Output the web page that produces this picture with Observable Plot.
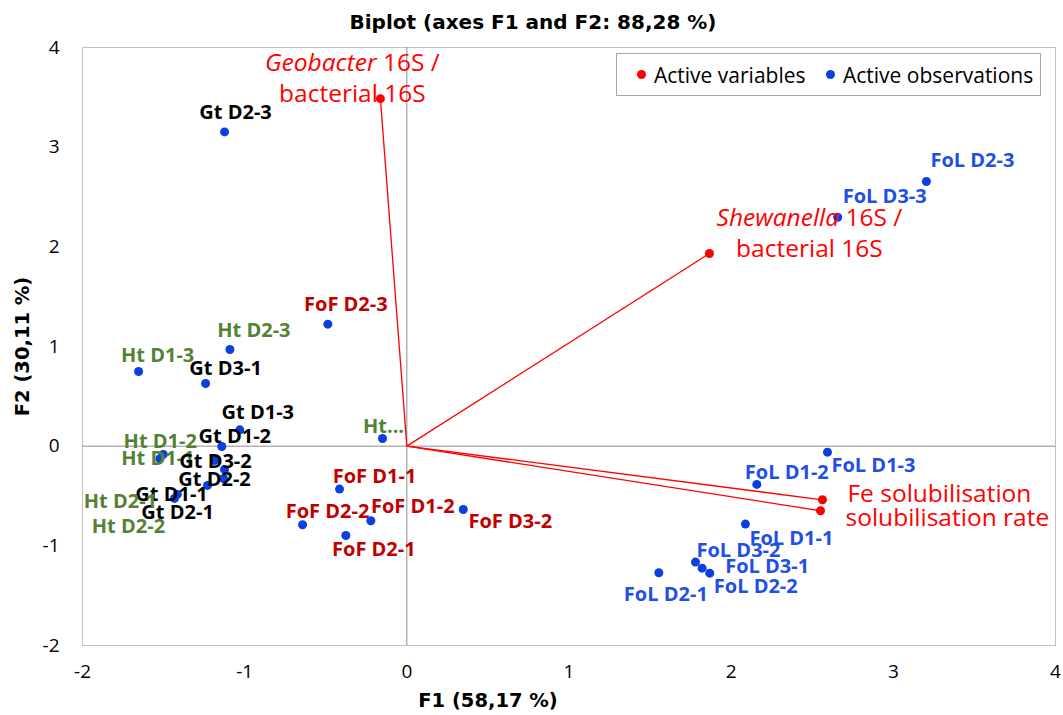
<!DOCTYPE html>
<html>
<head>
<meta charset="utf-8">
<script src="https://cdn.jsdelivr.net/npm/d3@7"></script>
<script src="https://cdn.jsdelivr.net/npm/@observablehq/plot@0.6"></script>
<style>
  html, body { margin: 0; padding: 0; background: #fff; }
  #wrap { position: relative; width: 1063px; height: 715px; font-family: "Open Sans", sans-serif; }
  #legend { position: absolute; left: 616px; top: 53px; width: 423px; height: 41px; border: 1px solid #a6a6a6; background: #fff;
            font-size: 21px; color: #000; }
  .li { position: absolute; top: 0; height: 41px; display: flex; align-items: center; white-space: nowrap; }
  .sw { position: absolute; top: 16px; width: 9px; height: 9px; border-radius: 50%; }
</style>
</head>
<body>
<div id="wrap"></div>
<script>
// ---- Data ----
const obsNames = ["Gt D2-3","Ht D2-3","Ht D1-3","Gt D3-1","Gt D1-3","Gt D1-2","Ht D1-2","Ht D1-1","Gt D3-2","Gt D2-2","Gt D2-1","Gt D1-1","Ht D2-1","Ht D2-2","Ht...",
                  "FoF D2-3","FoF D1-1","FoF D1-2","FoF D2-2","FoF D2-1","FoF D3-2",
                  "FoL D2-3","FoL D3-3","FoL D1-3","FoL D1-2","FoL D1-1","FoL D3-2","FoL D3-1","FoL D2-2","FoL D2-1"];
const obsF1 = [-1.124,-1.091,-1.654,-1.241,-1.030,-1.141,-1.502,-1.523,-1.186,-1.124,-1.130,-1.229,-1.415,-1.433,-0.150,
               -0.487,-0.415,-0.222,-0.643,-0.376,0.348,
               3.204,2.657,2.594,2.158,2.088,1.780,1.821,1.868,1.554];
const obsF2 = [3.153,0.970,0.749,0.629,0.164,-0.003,-0.083,-0.126,-0.143,-0.234,-0.324,-0.394,-0.484,-0.524,0.077,
               1.224,-0.431,-0.748,-0.788,-0.896,-0.635,
               2.655,2.297,-0.060,-0.384,-0.782,-1.163,-1.224,-1.274,-1.270];

const varNames = ["Geobacter 16S /\nbacterial 16S","Shewanella 16S /\nbacterial 16S","Fe solubilisation","solubilisation rate"];
const varF1 = [-0.163, 1.866, 2.563, 2.551];
const varF2 = [3.487, 1.933, -0.538, -0.648];

const xTicks = [-2,-1,0,1,2,3,4];
const yTicks = [-2,-1,0,1,2,3,4];

const titleText = "Biplot (axes F1 and F2: 88,28 %)";
const xLabel = "F1 (58,17 %)";
const yLabel = "F2 (30,11 %)";
const legendLabels = ["Active variables","Active observations"];

// ---- Layout (label offsets in px, styles) ----
const obsLabelOffset = {
  "Gt D2-3":[11,-19], "Ht D2-3":[24,-19], "Ht D1-3":[19,-16], "Gt D3-1":[20,-15], "Gt D1-3":[18,-17],
  "Gt D1-2":[13,-10], "Ht D1-2":[-3,-13], "Ht D1-1":[-2,0], "Gt D3-2":[1,1], "Gt D2-2":[-10,10],
  "Gt D2-1":[-46,34], "Gt D1-1":[-36,9], "Ht D2-1":[-57,7], "Ht D2-2":[-46,28], "Ht...":[1,-12],
  "FoF D2-3":[18,-20], "FoF D1-1":[35,-13], "FoF D1-2":[42,-14], "FoF D2-2":[25,-13], "FoF D2-1":[28,14], "FoF D3-2":[47,12],
  "FoL D2-3":[46,-21], "FoL D3-3":[47,-21], "FoL D1-3":[46,13], "FoL D1-2":[30,-12], "FoL D1-1":[46,14],
  "FoL D3-2":[43,-11], "FoL D3-1":[65,-2], "FoL D2-2":[46,13], "FoL D2-1":[7,22]
};
const varLabelLayout = [
  {dx:-28, dy:-22, anchor:"middle"},
  {dx:100, dy:-22, anchor:"middle"},
  {dx:25, dy:-8, anchor:"start"},
  {dx:25, dy:5, anchor:"start"}
];
const legendLayout = [{dot: 24, text: 37}, {dot: 213, text: 226}];
const groupColor = {Gt:"#000000", Ht:"#548235", FoF:"#C00000", FoL:"#1F4FE6"};
const obsColor = "#0B3FE0";
const varColor = "#FF0000";
const headFont = "DejaVu Sans, sans-serif";

const obs = obsNames.map((name, i) => ({name, F1: obsF1[i], F2: obsF2[i], group: name.split(/[ .]/)[0]}));
const vars = varNames.map((name, i) => ({name, F1: varF1[i], F2: varF2[i]}));

const marks = [
  Plot.frame({stroke: "#c0c0c0"}),
  Plot.ruleX([0], {stroke: "#8c8c8c", strokeWidth: 1}),
  Plot.ruleY([0], {stroke: "#8c8c8c", strokeWidth: 1}),
  Plot.axisX({ticks: xTicks, tickSize: 0, tickPadding: 19, fontSize: 19, tickFormat: d => String(d), label: null}),
  Plot.axisY({ticks: yTicks, tickSize: 0, tickPadding: 23, fontSize: 19, tickFormat: d => String(d), label: null}),
  Plot.link(vars, {x1: () => 0, y1: () => 0, x2: "F1", y2: "F2", stroke: varColor, strokeWidth: 1.3}),
  Plot.dot(vars, {x: "F1", y: "F2", r: 4.5, fill: varColor}),
  Plot.dot(obs, {x: "F1", y: "F2", r: 4.5, fill: obsColor}),
  ...obs.map(d => Plot.text([d], {
    x: "F1", y: "F2", text: "name",
    dx: obsLabelOffset[d.name][0], dy: obsLabelOffset[d.name][1],
    fill: groupColor[d.group], fontWeight: "bold", fontSize: 20,
    textAnchor: "middle", lineAnchor: "middle"
  })),
  ...vars.map((d, i) => Plot.text([d], {
    x: "F1", y: "F2", text: "name",
    dx: varLabelLayout[i].dx, dy: varLabelLayout[i].dy,
    textAnchor: varLabelLayout[i].anchor, lineAnchor: "middle", lineHeight: 1.25,
    fill: varColor, fontSize: 24.5
  })),
  Plot.text([titleText], {frameAnchor: "top", text: d => d, dx: -36, dy: -25, textAnchor: "middle", lineAnchor: "middle", fontWeight: "bold", fontSize: 20, fontFamily: headFont, fill: "#000"}),
  Plot.text([xLabel], {frameAnchor: "bottom", text: d => d, dx: -81, dy: 55, textAnchor: "middle", lineAnchor: "middle", fontWeight: "bold", fontSize: 19.5, fontFamily: headFont, fill: "#000"}),
  Plot.text([yLabel], {frameAnchor: "left", text: d => d, dx: -60, dy: 0, rotate: -90, textAnchor: "middle", lineAnchor: "middle", fontWeight: "bold", fontSize: 19.5, fontFamily: headFont, fill: "#000"})
];

const chart = Plot.plot({
  width: 1063,
  height: 715,
  marginLeft: 82,
  marginRight: 8,
  marginTop: 47,
  marginBottom: 70,
  x: {domain: [-2, 4]},
  y: {domain: [-2, 4]},
  style: {fontFamily: "Open Sans, sans-serif", fontSize: "17px", background: "#fff", color: "#000", overflow: "visible"},
  marks
});

// italic species names
const svgNS = "http://www.w3.org/2000/svg";
chart.querySelectorAll("tspan, text").forEach(el => {
  if (el.childElementCount === 0) {
    const m = el.textContent.match(/^(Geobacter|Shewanella)( 16S \/)$/);
    if (m) {
      el.textContent = "";
      const it = document.createElementNS(svgNS, "tspan");
      it.setAttribute("font-style", "italic");
      it.textContent = m[1];
      el.appendChild(it);
      el.appendChild(document.createTextNode(m[2]));
    }
  }
});

const wrap = document.getElementById("wrap");
wrap.appendChild(chart);

// legend
const legend = document.createElement("div");
legend.id = "legend";
const legendColors = [varColor, obsColor];
legendLabels.forEach((lab, i) => {
  const sw = document.createElement("span");
  sw.className = "sw";
  sw.style.left = (legendLayout[i].dot - 4.5) + "px";
  sw.style.background = legendColors[i];
  legend.appendChild(sw);
  const item = document.createElement("span");
  item.className = "li";
  item.style.left = legendLayout[i].text + "px";
  item.textContent = lab;
  legend.appendChild(item);
});
wrap.appendChild(legend);
</script>
</body>
</html>
